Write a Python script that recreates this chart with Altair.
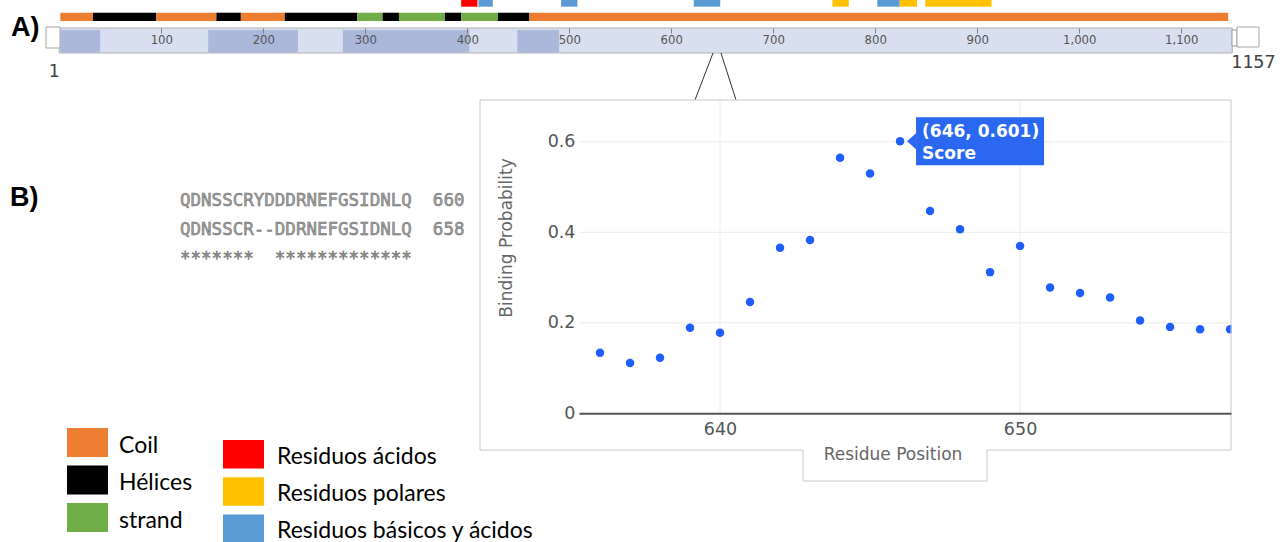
import altair as alt
import pandas as pd

# ---------------- data ----------------
seq_length = 1157
scale_ticks = [100, 200, 300, 400, 500, 600, 700, 800, 900, 1000, 1100]

ss_kind = ["Coil", "Hélices", "Coil", "Hélices", "Coil", "Hélices", "strand",
           "Hélices", "strand", "Hélices", "strand", "Hélices", "Coil"]
ss_start = [1, 33, 95, 154, 178, 221, 292, 317, 333, 378, 394, 430, 461]
ss_end = [33, 95, 154, 178, 221, 292, 317, 333, 378, 394, 430, 461, 1146]

res_kind = ["Residuos ácidos", "Residuos básicos y ácidos", "Residuos básicos y ácidos",
            "Residuos básicos y ácidos", "Residuos polares", "Residuos básicos y ácidos",
            "Residuos polares", "Residuos polares"]
res_start = [394, 411, 492, 622, 758, 802, 824, 849]
res_end = [410, 425, 508, 648, 774, 824, 841, 914]

track_start = [0]
track_end = [1150]
region_start = [1, 146, 278, 449]
region_end = [40, 234, 402, 490]

positions = [636, 637, 638, 639, 640, 641, 642, 643, 644, 645, 646,
             647, 648, 649, 650, 651, 652, 653, 654, 655, 656, 657]
scores = [0.134, 0.111, 0.123, 0.189, 0.178, 0.246, 0.366, 0.383, 0.565, 0.530, 0.601,
          0.447, 0.407, 0.312, 0.370, 0.278, 0.266, 0.256, 0.205, 0.191, 0.186, 0.186]
hover = [646, 0.601]
x_ticks = [640, 650]
y_ticks = [0, 0.2, 0.4, 0.6]

alignment = ["QDNSSCRYDDDRNEFGSIDNLQ  660",
             "QDNSSCR--DDRNEFGSIDNLQ  658",
             "*******  *************"]

legend_structure = ["Coil", "Hélices", "strand"]
legend_residues = ["Residuos ácidos", "Residuos polares", "Residuos básicos y ácidos"]
colors_structure = ["#ED7D31", "#000000", "#70AD47"]
colors_residues = ["#FF0000", "#FFC000", "#5B9BD5"]

# ---------------- scales / helpers ----------------
CAT = alt.Scale(domain=legend_structure + legend_residues,
                range=colors_structure + colors_residues)
RES = alt.Scale(domain=[0, seq_length], range=[59.3, 1239.4], nice=False, zero=False)
SX = alt.Scale(domain=[635.3, 657.03], range=[579, 1231], nice=False, zero=False)
SY = alt.Scale(domain=[0, 0.6924], range=[413.3, 100], nice=False, zero=False)

AR = alt.Axis(orient="bottom", offset=-514, values=scale_ticks, format=",d",
              domain=False, grid=False, ticks=True, tickSize=5, tickColor="#808080",
              labelFont="Liberation Sans Narrow, DejaVu Sans Condensed, Liberation Sans",
              labelFontSize=13, labelColor="#555555", labelPadding=0, title=None, zindex=2)
AX = alt.Axis(orient="bottom", offset=-128.7, values=x_ticks, format="d",
              domain=True, domainColor="#555555", domainWidth=2, ticks=False, tickSize=0,
              grid=False, labelFont="DejaVu Sans", labelFontSize=17.5, labelColor="#555555",
              labelPadding=7, title=None, zindex=2)
AY = alt.Axis(orient="left", offset=-579, values=y_ticks, format="~g",
              domain=False, ticks=False, tickSize=0, grid=False,
              labelFont="DejaVu Sans", labelFontSize=17.5, labelColor="#555555",
              labelPadding=4, title=None, zindex=2)

ONE = alt.Data(values=[{}])


def txt(text, x, y, **kw):
    kw.setdefault("baseline", "alphabetic")
    return alt.Chart(alt.Data(values=[{"t": text}])).mark_text(**kw).encode(
        x=alt.value(x), y=alt.value(y), text="t:N")


def box(x, x2, y, y2, **kw):
    return alt.Chart(ONE).mark_rect(**kw).encode(
        x=alt.value(x), x2=alt.value(x2), y=alt.value(y), y2=alt.value(y2))


def line(x, y, x2, y2, **kw):
    return alt.Chart(ONE).mark_rule(**kw).encode(
        x=alt.value(x), x2=alt.value(x2), y=alt.value(y), y2=alt.value(y2))


# ---------------- panel A: residue track ----------------
track_df = pd.DataFrame({"start": track_start, "end": track_end})
region_df = pd.DataFrame({"start": region_start, "end": region_end})
ss_df = pd.DataFrame({"start": ss_start, "end": ss_end, "kind": ss_kind})
res_df = pd.DataFrame({"start": res_start, "end": res_end, "kind": res_kind})

track = alt.Chart(track_df).mark_rect(fill="#d8dff0", stroke="#b3b3b3", strokeWidth=1).encode(
    x=alt.X("start:Q", scale=RES, axis=AR), x2="end:Q",
    y=alt.value(28), y2=alt.value(53))
regions = alt.Chart(region_df).mark_rect(fill="#aab8da").encode(
    x=alt.X("start:Q", scale=RES, axis=AR), x2="end:Q",
    y=alt.value(30), y2=alt.value(52.5))
ss = alt.Chart(ss_df).mark_rect().encode(
    x=alt.X("start:Q", scale=RES, axis=AR), x2="end:Q",
    y=alt.value(12.7), y2=alt.value(21),
    color=alt.Color("kind:N", scale=CAT, legend=None))
res = alt.Chart(res_df).mark_rect().encode(
    x=alt.X("start:Q", scale=RES, axis=AR), x2="end:Q",
    y=alt.value(0), y2=alt.value(6.7),
    color=alt.Color("kind:N", scale=CAT, legend=None))

residue_group = alt.layer(track, regions, ss, res)

# ---------------- panel B: scatter ----------------
BLUE = "#1E5EFF"
pts_df = pd.DataFrame({"pos": positions, "score": scores})

hgrid = alt.Chart(pd.DataFrame({"v": y_ticks[1:]})).mark_rule(color="#ececec").encode(
    y=alt.Y("v:Q", scale=SY, axis=AY),
    x=alt.X(datum=SX.domain[0], scale=SX, axis=AX), x2=alt.X2(datum=SX.domain[1]))
vgrid = alt.Chart(pd.DataFrame({"v": x_ticks})).mark_rule(color="#ececec").encode(
    x=alt.X("v:Q", scale=SX, axis=AX),
    y=alt.Y(datum=SY.domain[0], scale=SY, axis=AY), y2=alt.Y2(datum=SY.domain[1]))
points = alt.Chart(pts_df).mark_circle(size=72, color=BLUE, opacity=1).encode(
    x=alt.X("pos:Q", scale=SX, axis=AX), y=alt.Y("score:Q", scale=SY, axis=AY))

hx = alt.X(datum=hover[0], scale=SX, axis=AX)
hy = alt.Y(datum=hover[1], scale=SY, axis=AY)
tip_box = alt.Chart(ONE).mark_rect(color="#2A68F2", xOffset=16, x2Offset=144,
                                   yOffset=-24, y2Offset=24).encode(
    x=hx, x2=alt.X2(datum=hover[0]), y=hy, y2=alt.Y2(datum=hover[1]))
tip_arrow = alt.Chart(ONE).mark_point(shape="M-0.56,0L0.56,-1L0.56,1Z", filled=True,
                                      size=256, color="#2A68F2", opacity=1,
                                      xOffset=11.5).encode(x=hx, y=hy)
tip_t1 = alt.Chart(alt.Data(values=[{"t": f"({hover[0]}, {hover[1]})"}])).mark_text(
    align="left", baseline="alphabetic", dx=22, dy=-4, font="DejaVu Sans",
    fontWeight="bold", fontSize=17, color="white").encode(x=hx, y=hy, text="t:N")
tip_t2 = alt.Chart(alt.Data(values=[{"t": "Score"}])).mark_text(
    align="left", baseline="alphabetic", dx=22, dy=17.6, font="DejaVu Sans",
    fontWeight="bold", fontSize=17, color="white").encode(x=hx, y=hy, text="t:N")

scatter_group = alt.layer(hgrid, vgrid, points, tip_box, tip_arrow, tip_t1, tip_t2)

# ---------------- overlay: frames, labels, legend ----------------
over = []
# brush handles of the track
over.append(box(46, 60, 27, 48, fill="white", stroke="#a8a8a8", strokeWidth=1))
over.append(box(1232, 1237, 30, 46, fill="white", stroke="#9a9a9a", strokeWidth=1))
over.append(box(1237, 1259, 27, 47, fill="white", stroke="#a8a8a8", strokeWidth=1))
over.append(txt("1", 54, 77, align="center", font="DejaVu Sans Mono", fontSize=18,
                color="#444444"))
over.append(txt(str(seq_length), 1231, 68, align="left", font="DejaVu Sans Mono",
                fontSize=18.5, color="#444444"))
# zoom wedge
over.append(line(713, 53, 695, 100, color="#333333", strokeWidth=1))
over.append(line(721, 53, 736, 100, color="#333333", strokeWidth=1))
# mask (clip of last point) and panel frame
over.append(box(1231.5, 1246, 100, 450, fill="white"))
FR = "#c8c8c8"
for seg in [(480, 100, 1231, 100), (480, 100, 480, 450), (1231, 100, 1231, 450),
            (480, 450, 803, 450), (987, 450, 1231, 450), (803, 450, 803, 481),
            (987, 450, 987, 481), (803, 481, 987, 481)]:
    over.append(line(*seg, color=FR, strokeWidth=1))
# axis titles
over.append(txt("Binding Probability", 507, 238, align="center", baseline="middle",
                angle=270, font="DejaVu Sans", fontSize=17, color="#666666"))
over.append(txt("Residue Position", 893, 460, align="center",
                font="DejaVu Sans", fontSize=17, color="#666666"))
# panel letters
over.append(txt("A)", 11, 36, align="left", font="Liberation Sans", fontWeight="bold",
                fontSize=27, color="black"))
over.append(txt("B)", 10, 206, align="left", font="Liberation Sans", fontWeight="bold",
                fontSize=27, color="black"))
# alignment (non-breaking spaces keep the column gaps in SVG)
for i, s in enumerate(alignment):
    over.append(txt(s.replace(" ", "\u00a0"), 180, 206 + 29 * i, align="left",
                    font="DejaVu Sans Mono", fontSize=17.5, fill="#a3a3a3",
                    stroke="#666666", strokeWidth=0.5))
# legend
for i, (lab, col) in enumerate(zip(legend_structure, colors_structure)):
    y0 = 428 + 37.5 * i
    over.append(box(67, 108, y0, y0 + 29, fill=col))
    over.append(txt(lab, 119, y0 + 24.5, align="left", font="Lato", fontSize=23,
                    color="black"))
for i, (lab, col) in enumerate(zip(legend_residues, colors_residues)):
    y0 = 440 + 37.3 * i
    over.append(box(223, 264, y0, y0 + 28.5, fill=col))
    over.append(txt(lab, 277, y0 + 23.5, align="left", font="Lato", fontSize=23,
                    color="black"))

overlay = alt.layer(*over)

chart = alt.layer(residue_group, scatter_group, overlay).resolve_scale(
    x="independent", y="independent", color="independent"
).properties(
    width=1284, height=542, padding=0, background="white",
    autosize=alt.AutoSizeParams(type="none")
).configure_view(strokeWidth=0)

chart.save("out.html", embed_options={"renderer": "svg", "actions": False})
